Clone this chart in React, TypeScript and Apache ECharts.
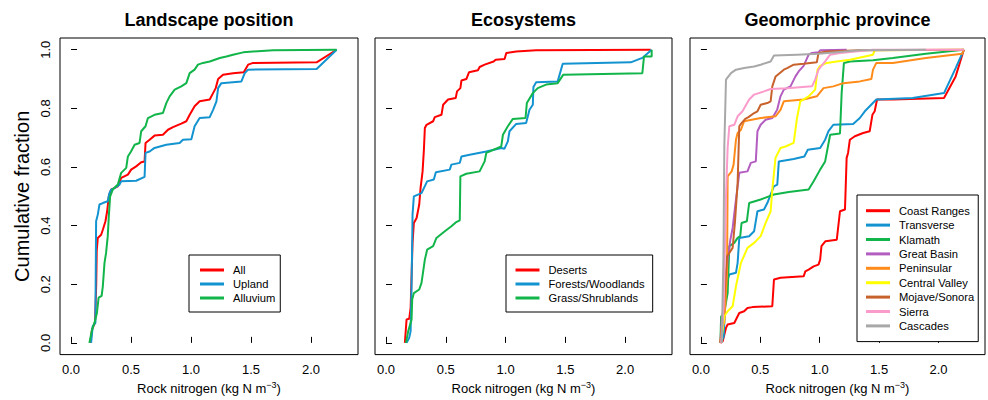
import React, { useEffect, useRef } from "react";
import * as echarts from "echarts";

const FONT = "'Liberation Sans', Arial, Helvetica, sans-serif";

const panelTitles = ["Landscape position", "Ecosystems", "Geomorphic province"];
const xTicks = [0, 0.5, 1, 1.5, 2];
const yTicks = [0, 0.2, 0.4, 0.6, 0.8, 1];
const xAxisTitle = "Rock nitrogen (kg N m";
const yAxisTitle = "Cumulative fraction";

// Panel 1: Landscape position
const allPts = [[0.16,0],[0.175,0.045],[0.2,0.07],[0.21,0.2],[0.214,0.313],[0.223,0.358],[0.251,0.369],[0.265,0.386],[0.287,0.415],[0.301,0.449],[0.315,0.5],[0.334,0.523],[0.39,0.534],[0.418,0.5625],[0.474,0.574],[0.501,0.591],[0.543,0.602],[0.585,0.616],[0.613,0.619],[0.621,0.682],[0.655,0.693],[0.696,0.707],[0.766,0.71],[0.808,0.727],[0.85,0.736],[0.919,0.748],[0.961,0.756],[0.989,0.778],[1.03,0.807],[1.072,0.824],[1.156,0.83],[1.184,0.852],[1.206,0.869],[1.226,0.9],[1.267,0.915],[1.351,0.92],[1.44,0.923],[1.476,0.949],[1.518,0.955],[2.047,0.957],[2.214,1.0]];
const uplandPts = [[0.167,0],[0.181,0.057],[0.203,0.068],[0.209,0.415],[0.223,0.4375],[0.237,0.472],[0.265,0.477],[0.306,0.483],[0.32,0.511],[0.334,0.523],[0.362,0.528],[0.404,0.54],[0.418,0.551],[0.543,0.553],[0.613,0.566],[0.621,0.648],[0.655,0.653],[0.696,0.665],[0.794,0.676],[0.905,0.682],[0.933,0.693],[1.003,0.695],[1.03,0.739],[1.072,0.767],[1.156,0.77],[1.184,0.795],[1.212,0.824],[1.226,0.869],[1.253,0.886],[1.42,0.892],[1.448,0.92],[1.476,0.932],[2.047,0.934],[2.214,1.0]];
const alluviumPts = [[0.153,0],[0.175,0.045],[0.195,0.068],[0.215,0.1],[0.23,0.154],[0.255,0.16],[0.265,0.193],[0.279,0.273],[0.292,0.307],[0.306,0.364],[0.315,0.432],[0.326,0.5],[0.348,0.523],[0.39,0.54],[0.418,0.58],[0.46,0.597],[0.474,0.636],[0.5,0.653],[0.53,0.676],[0.571,0.682],[0.585,0.722],[0.621,0.739],[0.641,0.767],[0.696,0.778],[0.766,0.784],[0.794,0.818],[0.822,0.841],[0.864,0.864],[0.919,0.875],[0.961,0.886],[0.989,0.92],[1.03,0.932],[1.058,0.949],[1.1,0.955],[1.156,0.96],[1.24,0.972],[1.295,0.977],[1.35,0.983],[1.435,0.991],[1.518,0.994],[1.685,0.998],[2.214,1.0]];

// Panel 2: Ecosystems
const desertsPts = [[0.158,0],[0.172,0.08],[0.194,0.082],[0.206,0.119],[0.222,0.341],[0.233,0.409],[0.256,0.426],[0.278,0.472],[0.289,0.528],[0.306,0.585],[0.317,0.659],[0.325,0.733],[0.339,0.744],[0.394,0.756],[0.408,0.77],[0.464,0.778],[0.478,0.8125],[0.519,0.83],[0.583,0.835],[0.594,0.858],[0.622,0.869],[0.631,0.895],[0.672,0.9],[0.694,0.923],[0.769,0.93],[0.783,0.941],[0.825,0.949],[0.9,0.96],[0.917,0.966],[0.992,0.968],[1.006,0.989],[1.089,0.994],[1.256,0.998],[2.214,1.0]];
const forestsPts = [[0.172,0],[0.194,0.017],[0.206,0.04],[0.214,0.2],[0.219,0.341],[0.222,0.4375],[0.233,0.5],[0.297,0.511],[0.344,0.551],[0.4,0.557],[0.417,0.582],[0.533,0.591],[0.547,0.608],[0.617,0.614],[0.631,0.636],[0.7,0.642],[0.839,0.653],[0.964,0.665],[0.99,0.662],[1.019,0.6875],[1.033,0.722],[1.089,0.747],[1.172,0.75],[1.2,0.795],[1.228,0.8125],[1.233,0.873],[1.256,0.889],[1.436,0.892],[1.478,0.952],[2.047,0.957],[2.144,0.972],[2.222,1.0]];
const grassPts = [[0.167,0],[0.186,0.04],[0.214,0.08],[0.219,0.148],[0.233,0.17],[0.278,0.182],[0.297,0.2045],[0.325,0.284],[0.344,0.318],[0.394,0.33],[0.422,0.358],[0.492,0.381],[0.547,0.398],[0.583,0.411],[0.617,0.418],[0.622,0.568],[0.672,0.577],[0.783,0.585],[0.825,0.619],[0.839,0.648],[0.964,0.67],[0.978,0.71],[1.019,0.739],[1.061,0.764],[1.167,0.767],[1.178,0.818],[1.228,0.852],[1.269,0.869],[1.339,0.881],[1.436,0.886],[1.483,0.915],[2.144,0.92],[2.158,0.977],[2.222,0.977],[2.222,1.0]];

// Panel 3: Geomorphic province
const coastPts = [[0.164,0],[0.184,0.006],[0.211,0.051],[0.225,0.0625],[0.281,0.068],[0.309,0.091],[0.323,0.102],[0.364,0.108],[0.392,0.119],[0.434,0.122],[0.601,0.125],[0.615,0.216],[0.67,0.222],[0.865,0.227],[0.879,0.244],[0.907,0.25],[0.949,0.261],[0.99,0.267],[1.004,0.284],[1.015,0.33],[1.049,0.347],[1.144,0.352],[1.171,0.449],[1.213,0.455],[1.227,0.631],[1.239,0.648],[1.254,0.693],[1.296,0.705],[1.366,0.716],[1.421,0.722],[1.444,0.778],[1.463,0.79],[1.483,0.83],[1.616,0.83],[2.047,0.835],[2.145,0.909],[2.214,1.0]];
const transversePts = [[0.17,0],[0.192,0.023],[0.211,0.199],[0.239,0.233],[0.295,0.239],[0.309,0.273],[0.323,0.358],[0.406,0.364],[0.448,0.381],[0.476,0.449],[0.531,0.455],[0.559,0.477],[0.614,0.534],[0.643,0.54],[0.656,0.619],[0.781,0.627],[0.871,0.636],[0.9,0.659],[1.004,0.665],[1.046,0.693],[1.074,0.722],[1.115,0.744],[1.282,0.747],[1.338,0.767],[1.38,0.79],[1.477,0.83],[1.783,0.835],[2.047,0.852],[2.145,0.9375],[2.214,1.0]];
const klamathPts = [[0.164,0],[0.17,0.091],[0.192,0.093],[0.225,0.17],[0.239,0.33],[0.281,0.341],[0.309,0.358],[0.331,0.364],[0.342,0.409],[0.387,0.415],[0.406,0.477],[0.503,0.489],[0.615,0.506],[0.74,0.515],[0.907,0.523],[0.949,0.551],[1.004,0.591],[1.046,0.619],[1.088,0.71],[1.171,0.714],[1.185,0.852],[1.204,0.955],[1.255,0.96],[1.449,0.964],[1.616,0.972],[1.894,0.986],[2.214,1.0]];
const greatBasinPts = [[0.164,0],[0.175,0.08],[0.197,0.131],[0.225,0.284],[0.248,0.352],[0.267,0.392],[0.295,0.489],[0.323,0.58],[0.392,0.585],[0.42,0.614],[0.462,0.619],[0.476,0.722],[0.503,0.744],[0.545,0.761],[0.601,0.767],[0.642,0.795],[0.67,0.841],[0.698,0.864],[0.754,0.875],[0.796,0.909],[0.823,0.926],[0.865,0.945],[0.907,0.983],[0.935,0.989],[0.99,0.991],[1.004,0.998],[1.227,1.0]];
const peninsularPts = [[0.164,0],[0.175,0.057],[0.197,0.068],[0.22,0.239],[0.225,0.568],[0.259,0.585],[0.275,0.608],[0.295,0.693],[0.309,0.716],[0.337,0.727],[0.364,0.756],[0.503,0.767],[0.629,0.773],[0.67,0.795],[0.698,0.824],[0.865,0.83],[0.976,0.841],[1.032,0.869],[1.115,0.875],[1.199,0.886],[1.338,0.892],[1.435,0.9],[1.449,0.932],[1.477,0.955],[1.616,0.955],[1.894,0.972],[2.2,0.986],[2.214,1.0]];
const centralValleyPts = [[0.17,0],[0.197,0.091],[0.225,0.108],[0.267,0.125],[0.295,0.193],[0.337,0.273],[0.392,0.324],[0.448,0.341],[0.503,0.364],[0.545,0.409],[0.587,0.449],[0.601,0.523],[0.628,0.631],[0.67,0.665],[0.712,0.67],[0.781,0.682],[0.809,0.767],[0.837,0.824],[0.907,0.841],[0.962,0.864],[0.982,0.932],[1.004,0.945],[1.06,0.955],[1.143,0.96],[1.255,0.966],[1.449,0.983],[1.463,0.998],[2.214,1.0]];
const mojavePts = [[0.164,0],[0.184,0.074],[0.22,0.295],[0.267,0.324],[0.286,0.409],[0.309,0.545],[0.323,0.739],[0.337,0.747],[0.373,0.764],[0.4,0.77],[0.448,0.784],[0.476,0.79],[0.503,0.8125],[0.559,0.818],[0.587,0.824],[0.601,0.875],[0.629,0.909],[0.698,0.932],[0.726,0.9375],[0.781,0.949],[0.865,0.952],[0.976,0.957],[0.99,0.989],[1.06,0.994],[1.338,0.998],[2.214,1.0]];
const sierraPts = [[0.17,0],[0.192,0.125],[0.211,0.5],[0.225,0.665],[0.239,0.739],[0.281,0.744],[0.309,0.773],[0.35,0.79],[0.406,0.83],[0.448,0.847],[0.531,0.858],[0.587,0.866],[0.726,0.869],[0.935,0.875],[0.962,0.898],[0.99,0.932],[1.046,0.96],[1.088,0.983],[1.171,0.989],[1.449,1.0],[2.214,1.0]];
const cascadesPts = [[0.175,0],[0.19,0.3],[0.197,0.67],[0.211,0.898],[0.253,0.92],[0.295,0.932],[0.364,0.9375],[0.448,0.943],[0.503,0.949],[0.587,0.96],[0.615,0.98],[0.809,0.983],[0.99,0.986],[1.338,0.998],[1.894,1.0]];

const panel1Names = ["All", "Upland", "Alluvium"];
const panel1Colors = ["#FF0000", "#1393D0", "#12B54A"];
const panel1Data = [allPts, uplandPts, alluviumPts];

const panel2Names = ["Deserts", "Forests/Woodlands", "Grass/Shrublands"];
const panel2Colors = ["#FF0000", "#1393D0", "#12B54A"];
const panel2Data = [desertsPts, forestsPts, grassPts];

const panel3Names = ["Coast Ranges", "Transverse", "Klamath", "Great Basin", "Peninsular", "Central Valley", "Mojave/Sonora", "Sierra", "Cascades"];
const panel3Colors = ["#FF0000", "#1393D0", "#12B54A", "#B35DC1", "#FF8C1A", "#FFFF00", "#C8622C", "#FB9BCB", "#A8A8A8"];
const panel3Data = [coastPts, transversePts, klamathPts, greatBasinPts, peninsularPts, centralValleyPts, mojavePts, sierraPts, cascadesPts];

const grids = [
  { left: 60, top: 38, width: 298, height: 317 },
  { left: 375, top: 38, width: 297, height: 317 },
  { left: 690, top: 38, width: 295, height: 317 },
];

export default function App() {
  const ref = useRef<HTMLDivElement>(null);

  useEffect(() => {
    if (!ref.current) return;
    const chart = echarts.init(ref.current, undefined, { renderer: "svg" });

    const xAxes = grids.map((_, i) => ({
      type: "value",
      gridIndex: i,
      min: -0.092,
      max: 2.392,
      axisLine: { show: false },
      splitLine: { show: false },
      axisTick: { show: true, inside: true, length: 6, customValues: xTicks, lineStyle: { color: "#000", width: 1 } },
      axisLabel: {
        show: true,
        customValues: xTicks,
        formatter: (v: number) => v.toFixed(1),
        color: "#000",
        fontFamily: FONT,
        fontSize: 13,
        margin: 8,
      },
      name: `{a|${xAxisTitle}}{s|−3}{a|)}`,
      nameLocation: "middle",
      nameGap: 23,
      nameTextStyle: {
        rich: {
          a: { fontFamily: FONT, fontSize: 13, color: "#000", lineHeight: 16 },
          s: { fontFamily: FONT, fontSize: 9, color: "#000", lineHeight: 9, verticalAlign: "top" },
        },
      },
    }));

    const yAxes = grids.map((_, i) => ({
      type: "value",
      gridIndex: i,
      min: -0.04,
      max: 1.04,
      axisLine: { show: false },
      splitLine: { show: false },
      axisTick: { show: true, inside: true, length: 6, customValues: yTicks, lineStyle: { color: "#000", width: 1 } },
      axisLabel: {
        show: i === 0,
        customValues: yTicks,
        rotate: 90,
        formatter: (v: number) => v.toFixed(1),
        color: "#000",
        fontFamily: FONT,
        fontSize: 13,
        margin: 8,
      },
      name: i === 0 ? yAxisTitle : "",
      nameLocation: "middle",
      nameGap: 28,
      nameTextStyle: { fontFamily: FONT, fontSize: 20, color: "#000" },
    }));

    const series: any[] = [];
    const addPanel = (names: string[], colors: string[], data: number[][][], idx: number) => {
      names.forEach((n, k) => {
        series.push({
          type: "line",
          name: n,
          xAxisIndex: idx,
          yAxisIndex: idx,
          data: data[k],
          showSymbol: false,
          symbol: "none",
          color: colors[k],
          lineStyle: { color: colors[k], width: 2 },
          silent: true,
        });
      });
    };
    addPanel(panel1Names, panel1Colors, panel1Data, 0);
    addPanel(panel2Names, panel2Colors, panel2Data, 1);
    addPanel(panel3Names, panel3Colors, panel3Data, 2);

    const legendBase = {
      orient: "vertical",
      itemGap: 0,
      itemWidth: 24,
      itemHeight: 3,
      icon: "rect",
      borderColor: "#000",
      borderWidth: 1,
      borderRadius: 0,
      backgroundColor: "#fff",
      selectedMode: false,
    };

    const legends = [
      {
        ...legendBase,
        left: 189,
        top: 255,
        padding: [8, 5, 7, 11],
        data: panel1Names,
        textStyle: { fontFamily: FONT, fontSize: 11.2, color: "#000", lineHeight: 14, padding: [0, 0, 0, 4] },
      },
      {
        ...legendBase,
        left: 506,
        top: 255,
        padding: [8, 8, 7, 9.5],
        data: panel2Names,
        textStyle: { fontFamily: FONT, fontSize: 11.2, color: "#000", lineHeight: 14, padding: [0, 0, 0, 4] },
      },
      {
        ...legendBase,
        left: 857,
        top: 195,
        padding: [8.5, 4, 8.5, 9],
        data: panel3Names,
        textStyle: { fontFamily: FONT, fontSize: 11.2, color: "#000", lineHeight: 14.4, padding: [0, 0, 0, 4] },
      },
    ];

    const centers = grids.map((g) => g.left + g.width / 2);

    chart.setOption({
      animation: false,
      backgroundColor: "#fff",
      grid: grids.map((g) => ({ ...g, show: true, borderColor: "#000", borderWidth: 1, backgroundColor: "transparent", containLabel: false })),
      xAxis: xAxes,
      yAxis: yAxes,
      legend: legends,
      series,
      graphic: panelTitles.map((t, i) => ({
        type: "text",
        x: centers[i],
        y: 20,
        silent: true,
        style: {
          text: t,
          fontFamily: FONT,
          fontSize: 18,
          fontWeight: "bold",
          fill: "#000",
          align: "center",
          verticalAlign: "middle",
        },
      })),
    });

    return () => chart.dispose();
  }, []);

  return <div ref={ref} style={{ width: 988, height: 400, position: "absolute", left: 0, top: 0 }} />;
}
